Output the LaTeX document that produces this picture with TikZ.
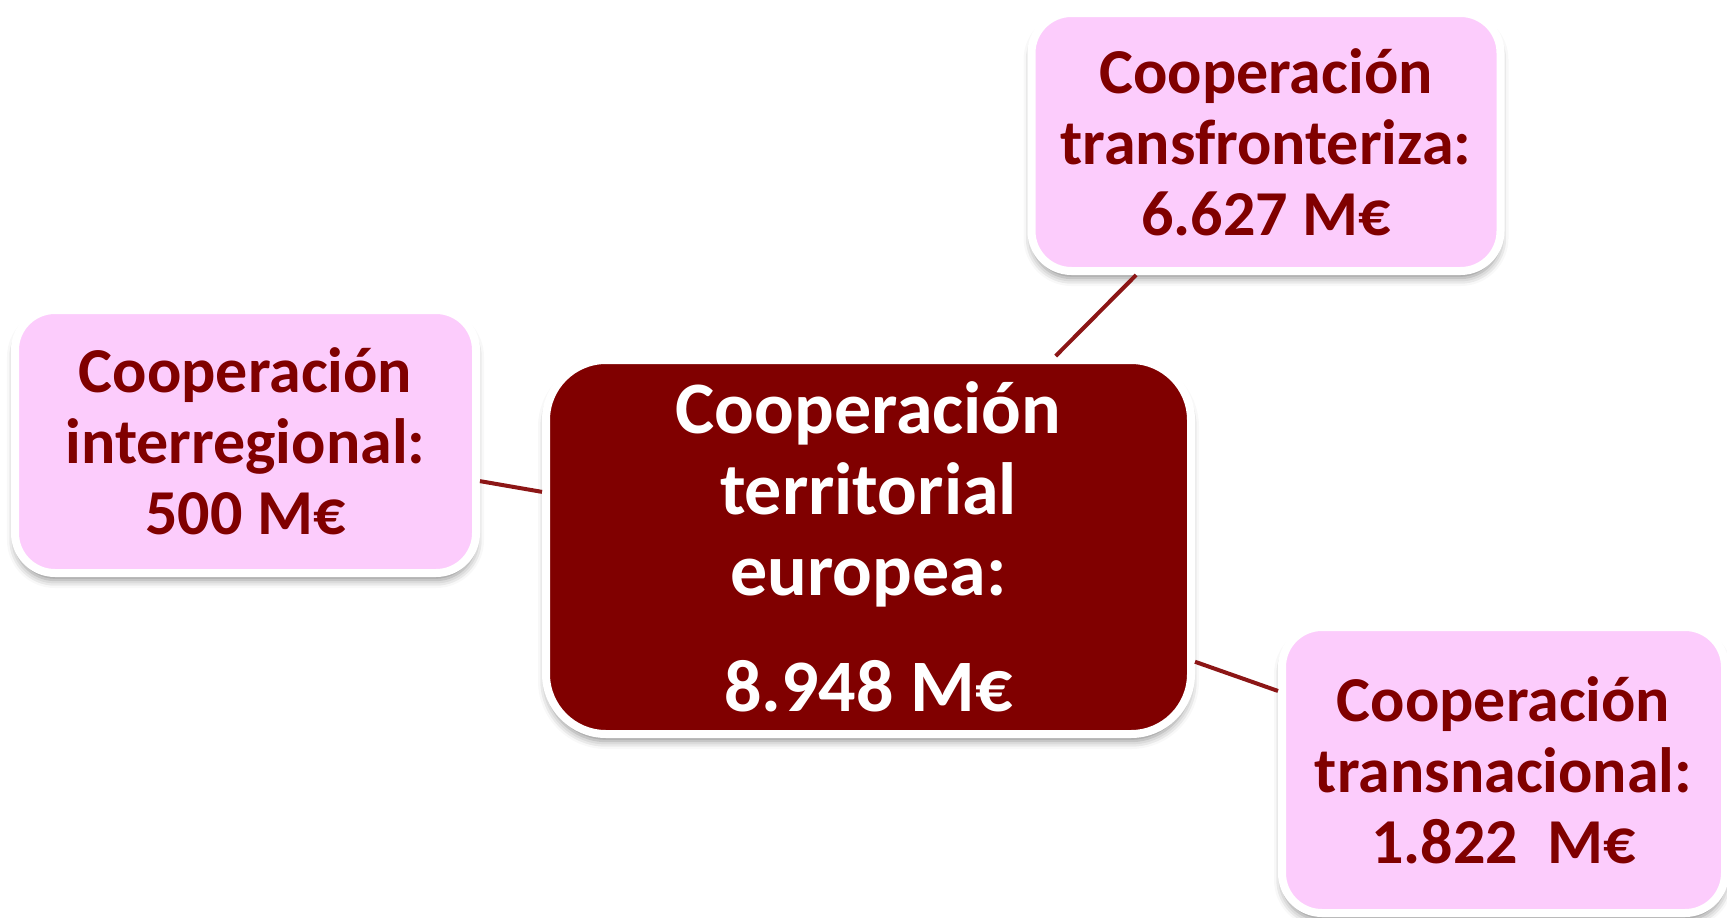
\documentclass[tikz,border=0pt]{standalone}
\usepackage{fontspec}
\setmainfont{Carlito}
\usetikzlibrary{shadows.blur}
\definecolor{pinkfill}{RGB}{252,204,252}
\definecolor{darkred}{RGB}{128,0,0}
\definecolor{linkred}{RGB}{140,22,22}
\begin{document}
\begin{tikzpicture}[x=1pt,y=-1pt,
  box/.style={draw=white, line width=8pt, rounded corners=40pt, align=center, inner sep=0pt,
    font=\fontsize{64}{71}\selectfont\bfseries, text=darkred, fill=pinkfill,
    blur shadow={shadow xshift=0pt, shadow yshift=-7pt, shadow blur radius=8pt, shadow opacity=45}},
  mainbox/.style={box, fill=darkred, text=white, rounded corners=60pt,
    font=\fontsize{74}{81}\selectfont\bfseries},
  link/.style={draw=linkred, line width=4pt}]
\useasboundingbox (0,0) rectangle (1727,918);
\node[mainbox, minimum width=645pt, minimum height=374pt] (c) at (868.5,547)
  {Cooperación\\territorial\\europea:\\[35pt]8.948 M€};
\node[box, minimum width=469pt, minimum height=258pt] (t) at (1266,142)
  {Cooperación\\transfronteriza:\\6.627 M€};
\node[box, minimum width=461pt, minimum height=263pt] (l) at (245.5,441.5)
  {Cooperación\\interregional:\\500 M€};
\node[box, minimum width=443pt, minimum height=286pt] (b) at (1503.5,770)
  {Cooperación\\transnacional:\\1.822~~M€};
\draw[link] (c) -- (t);
\draw[link] (c) -- (l);
\draw[link] (c) -- (b);
\end{tikzpicture}
\end{document}
